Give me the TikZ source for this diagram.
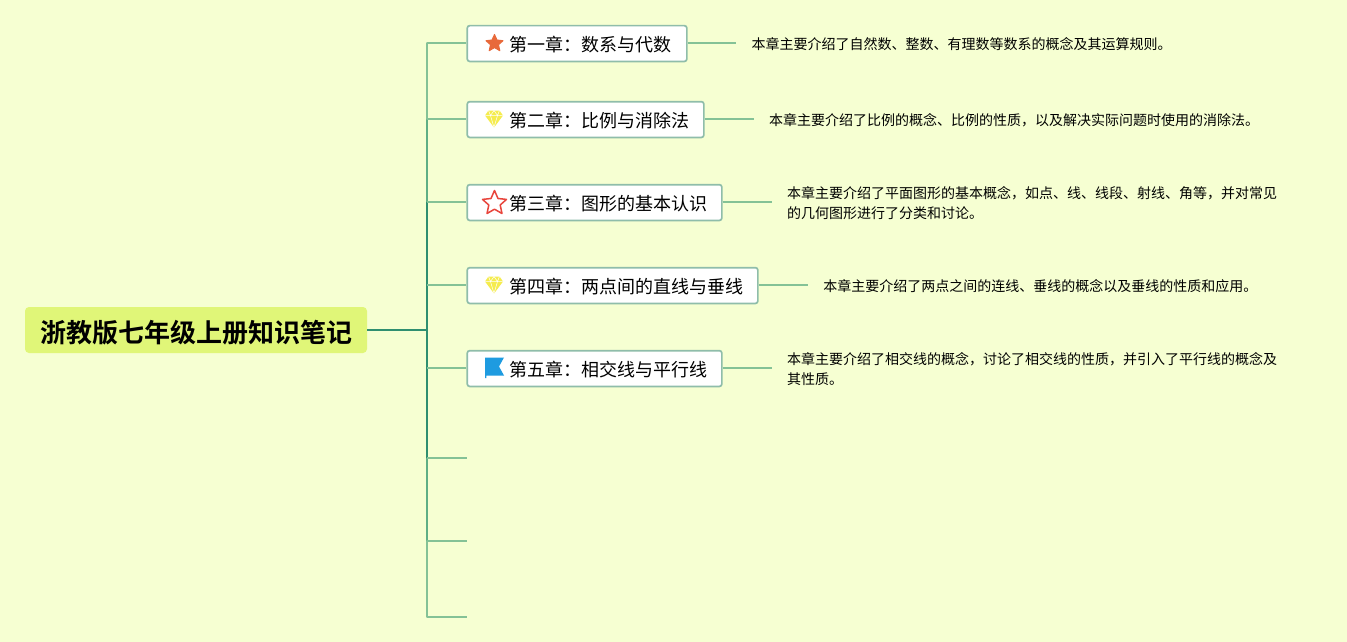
\documentclass[tikz,border=0pt]{standalone}
\usepackage{fontspec}
\setmainfont{Noto Sans CJK SC}
\newfontfamily\cjkbold{Noto Sans CJK SC Bold}
\definecolor{bgc}{HTML}{F6FFD2}
\definecolor{rootc}{HTML}{E0F678}
\definecolor{boxline}{HTML}{8FBDAA}
\definecolor{lnlight}{HTML}{84C296}
\definecolor{lnmid}{HTML}{5FAF85}
\definecolor{lndark}{HTML}{2F8F70}
\definecolor{starc}{HTML}{E8693A}
\definecolor{gemc}{HTML}{F5EC4E}
\definecolor{redc}{HTML}{E8453C}
\definecolor{flagc}{HTML}{1E9BE0}
\tikzset{
  x=1pt,y=-1pt,
  rootbox/.style={draw=none,fill=rootc,rounded corners=4pt,minimum width=342pt,minimum height=46pt,inner sep=0pt},
  roottxt/.style={inner sep=0pt,font=\cjkbold\fontsize{26}{30}\selectfont},
  chapbox/.style={draw=boxline,line width=1.7pt,fill=white,rounded corners=2.5pt,minimum height=35.8pt,inner sep=0pt,anchor=north west},
  chaptxt/.style={font=\fontsize{18}{22}\selectfont,anchor=west,inner sep=0pt},
  desc/.style={anchor=north west,inner sep=0pt,align=left,font=\fontsize{14}{20}\selectfont},
  branch/.style={line width=1.6pt,color=lnlight},
  trunkmid/.style={line width=1.9pt,color=lnmid},
  trunkdark/.style={line width=2.1pt,color=lndark},
}
\begin{document}
\begin{tikzpicture}
\useasboundingbox (0,0) rectangle (1347,642);
\fill[bgc] (0,0) rectangle (1347,642);
% root
\node[rootbox] (root) at (196,330) {};
\node[roottxt] (roottext) at (196.5,333) {浙教版七年级上册知识笔记};
% trunk coordinates
\coordinate (t0) at (427,330);
\coordinate (t1) at (427,43);
\coordinate (t2) at (427,119);
\coordinate (t3) at (427,202);
\coordinate (t4) at (427,285);
\coordinate (t5) at (427,368);
\coordinate (t6) at (427,458);
\coordinate (t7) at (427,541);
\coordinate (t8) at (427,617);
\coordinate (e6) at (467,458);
\coordinate (e7) at (467,541);
\coordinate (e8) at (467,617);
% chapter boxes
\node[chapbox,minimum width=219.6pt] (c1) at (466.4,24.8) {};
\node[chapbox,minimum width=236.6pt] (c2) at (466.4,100.8) {};
\node[chapbox,minimum width=254.6pt] (c3) at (466.4,183.8) {};
\node[chapbox,minimum width=290.6pt] (c4) at (466.4,266.8) {};
\node[chapbox,minimum width=254.6pt] (c5) at (466.4,349.8) {};
\node[chaptxt] (l1) at (509,45) {第一章：数系与代数};
\node[chaptxt] (l2) at (509,121) {第二章：比例与消除法};
\node[chaptxt] (l3) at (509,204) {第三章：图形的基本认识};
\node[chaptxt] (l4) at (509,287) {第四章：两点间的直线与垂线};
\node[chaptxt] (l5) at (509,370) {第五章：相交线与平行线};
% connectors
\draw[trunkdark] (root.east) -- (t0);
\draw[trunkdark] (t3) -- (t6);
\draw[trunkmid] (t2) -- (t3);
\draw[trunkmid] (t6) -- (t7);
\draw[branch,line cap=round] (t1) -- (t2);
\draw[branch,line cap=round] (t7) -- (t8);
\draw[branch] (t1) -- (c1.west |- t1);
\draw[branch] (t2) -- (c2.west |- t2);
\draw[branch] (t3) -- (c3.west |- t3);
\draw[branch] (t4) -- (c4.west |- t4);
\draw[branch] (t5) -- (c5.west |- t5);
\draw[branch] (t6) -- (e6);
\draw[branch] (t7) -- (e7);
\draw[branch] (t8) -- (e8);
\coordinate (d1e) at (736,43);
\coordinate (d2e) at (754,119);
\coordinate (d3e) at (772,202);
\coordinate (d4e) at (808,285);
\coordinate (d5e) at (772,368);
\draw[branch] (c1.east |- d1e) -- (d1e);
\draw[branch] (c2.east |- d2e) -- (d2e);
\draw[branch] (c3.east |- d3e) -- (d3e);
\draw[branch] (c4.east |- d4e) -- (d4e);
\draw[branch] (c5.east |- d5e) -- (d5e);
% descriptions
\node[desc] (d1) at (751.5,37) {本章主要介绍了自然数、整数、有理数等数系的概念及其运算规则。};
\node[desc] (d2) at (769,113) {本章主要介绍了比例的概念、比例的性质，以及解决实际问题时使用的消除法。};
\node[desc] (d3) at (787,186.6) {本章主要介绍了平面图形的基本概念，如点、线、线段、射线、角等，并对常见\\的几何图形进行了分类和讨论。};
\node[desc] (d4) at (823.2,279) {本章主要介绍了两点之间的连线、垂线的概念以及垂线的性质和应用。};
\node[desc] (d5) at (787,352.6) {本章主要介绍了相交线的概念，讨论了相交线的性质，并引入了平行线的概念及\\其性质。};
% icons
\fill[starc,line join=round,draw=starc,line width=1pt] (494.5,34.5) -- (497,40) -- (503,40.7) -- (498.5,44.7) -- (499.8,50.7) -- (494.5,47.6) -- (489.2,50.7) -- (490.5,44.7) -- (486,40.7) -- (492,40) -- cycle;
\draw[redc,line join=round,line width=1.5pt,fill=white] (494.5,190.5) -- (498,198.5) -- (506.5,199.4) -- (500.2,205) -- (502,213.5) -- (494.5,209.2) -- (487,213.5) -- (488.8,205) -- (482.5,199.4) -- (491,198.5) -- cycle;
\foreach \yy in {119,285}{
  \begin{scope}[shift={(494,\yy)}]
    \fill[gemc] (-5.5,-8.5) -- (5.5,-8.5) -- (9,-3.5) -- (0,8.5) -- (-9,-3.5) -- cycle;
    \draw[white,line width=0.5pt] (-9,-3.5) -- (9,-3.5) (-3.5,-3.5) -- (0,8.5) -- (3.5,-3.5) (-5.5,-8.5) -- (-3.5,-3.5) -- (0,-8.5) -- (3.5,-3.5) -- (5.5,-8.5);
  \end{scope}
}
\fill[flagc] (485,357.5) -- (504,357.5) -- (499,366.5) -- (504,375.5) -- (486.3,375.5) -- (486.3,378) -- (485,378) -- cycle;
\end{tikzpicture}
\end{document}
